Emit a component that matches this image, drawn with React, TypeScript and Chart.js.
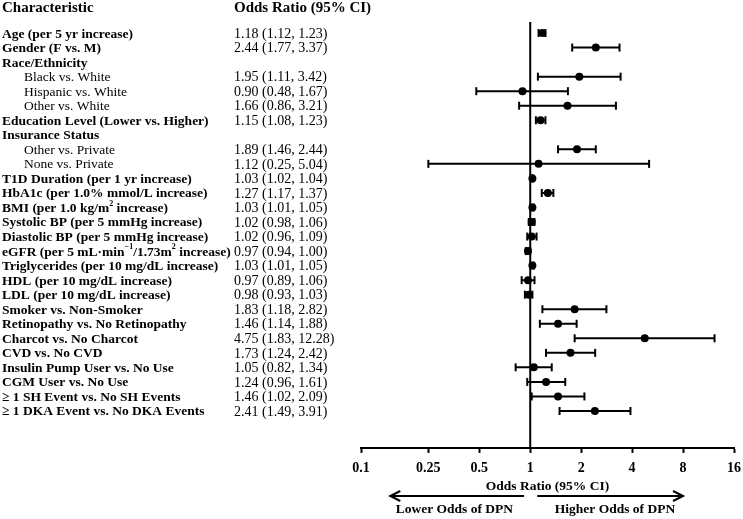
import React, { useEffect, useRef } from "react";
import { Chart, registerables } from "chart.js";

Chart.register(...registerables);

const labels: string[] = [
  "Age (per 5 yr increase)",
  "Gender (F vs. M)",
  "Race/Ethnicity",
  "Black vs. White",
  "Hispanic vs. White",
  "Other vs. White",
  "Education Level (Lower vs. Higher)",
  "Insurance Status",
  "Other vs. Private",
  "None vs. Private",
  "T1D Duration (per 1 yr increase)",
  "HbA1c (per 1.0% mmol/L increase)",
  "BMI (per 1.0 kg/m² increase)",
  "Systolic BP (per 5 mmHg increase)",
  "Diastolic BP (per 5 mmHg increase)",
  "eGFR (per 5 mL·min⁻¹/1.73m² increase)",
  "Triglycerides (per 10 mg/dL increase)",
  "HDL (per 10 mg/dL increase)",
  "LDL (per 10 mg/dL increase)",
  "Smoker vs. Non-Smoker",
  "Retinopathy vs. No Retinopathy",
  "Charcot vs. No Charcot",
  "CVD vs. No CVD",
  "Insulin Pump User vs. No Use",
  "CGM User vs. No Use",
  "≥ 1 SH Event vs. No SH Events",
  "≥ 1 DKA Event vs. No DKA Events",
];

const subItem: boolean[] = [
  false, false, false, true, true, true, false, false, true, true,
  false, false, false, false, false, false, false, false, false, false,
  false, false, false, false, false, false, false,
];

const oddsRatio: (number | null)[] = [
  1.18, 2.44, null, 1.95, 0.9, 1.66, 1.15, null, 1.89, 1.12,
  1.03, 1.27, 1.03, 1.02, 1.02, 0.97, 1.03, 0.97, 0.98, 1.83,
  1.46, 4.75, 1.73, 1.05, 1.24, 1.46, 2.41,
];
const lower: (number | null)[] = [
  1.12, 1.77, null, 1.11, 0.48, 0.86, 1.08, null, 1.46, 0.25,
  1.02, 1.17, 1.01, 0.98, 0.96, 0.94, 1.01, 0.89, 0.93, 1.18,
  1.14, 1.83, 1.24, 0.82, 0.96, 1.02, 1.49,
];
const upper: (number | null)[] = [
  1.23, 3.37, null, 3.42, 1.67, 3.21, 1.23, null, 2.44, 5.04,
  1.04, 1.37, 1.05, 1.06, 1.09, 1.0, 1.05, 1.06, 1.03, 2.82,
  1.88, 12.28, 2.42, 1.34, 1.61, 2.09, 3.91,
];

const tickValues: number[] = [0.1, 0.25, 0.5, 1, 2, 4, 8, 16];

const FONT = "'Liberation Serif', 'Times New Roman', serif";

const fmt = (v: number) => v.toFixed(2);

const SUP: Record<string, string> = { "²": "2", "¹": "1", "⁻": "−" };

function drawRich(ctx: CanvasRenderingContext2D, text: string, x: number, y: number, weight: string, size: number) {
  let cx = x;
  let buf = "";
  const flush = () => {
    if (!buf) return;
    ctx.font = `${weight} ${size}px ${FONT}`;
    ctx.fillText(buf, cx, y);
    cx += ctx.measureText(buf).width;
    buf = "";
  };
  for (const ch of text) {
    if (SUP[ch]) {
      flush();
      ctx.font = `${weight} ${Math.round(size * 0.62)}px ${FONT}`;
      const s = SUP[ch];
      ctx.fillText(s, cx, y - size * 0.35);
      cx += ctx.measureText(s).width;
    } else {
      buf += ch;
    }
  }
  flush();
}

export default function App() {
  const ref = useRef<HTMLCanvasElement | null>(null);

  useEffect(() => {
    if (!ref.current) return;

    const ciData: any[] = [];
    const ptData: any[] = [];
    labels.forEach((_, i) => {
      if (oddsRatio[i] != null) {
        ciData.push({ x: lower[i], y: i });
        ciData.push({ x: upper[i], y: i });
        ciData.push({ x: null, y: null });
        ptData.push({ x: oddsRatio[i], y: i });
      }
    });

    const textPlugin = {
      id: "forestText",
      afterDraw(chart: any) {
        const ctx = chart.ctx;
        const ys = chart.scales.y;
        const xs = chart.scales.x;
        ctx.save();
        ctx.fillStyle = "#000";
        ctx.textBaseline = "middle";
        ctx.textAlign = "left";
        ctx.font = `bold 15px ${FONT}`;
        ctx.fillText("Characteristic", 2, 8);
        ctx.fillText("Odds Ratio (95% CI)", 234, 8);
        labels.forEach((lab, i) => {
          const y = ys.getPixelForValue(i) + 1;
          drawRich(ctx, lab, subItem[i] ? 24 : 2, y, subItem[i] ? "normal" : "bold", 13.5);
          if (oddsRatio[i] != null) {
            ctx.font = `14px ${FONT}`;
            ctx.fillText(
              `${fmt(oddsRatio[i] as number)} (${fmt(lower[i] as number)}, ${fmt(upper[i] as number)})`,
              234,
              y
            );
          }
        });
        // reference line at OR = 1
        const x1 = xs.getPixelForValue(1);
        ctx.strokeStyle = "#000";
        ctx.lineWidth = 2;
        ctx.beginPath();
        ctx.moveTo(x1, chart.chartArea.top);
        ctx.lineTo(x1, chart.chartArea.bottom);
        ctx.stroke();

        // arrows
        const ay = 496;
        const drawArrow = (from: number, to: number) => {
          const a = xs.getPixelForValue(from);
          const b = xs.getPixelForValue(to);
          ctx.beginPath();
          ctx.moveTo(a, ay);
          ctx.lineTo(b, ay);
          ctx.stroke();
          const dir = b > a ? -1 : 1;
          ctx.beginPath();
          ctx.moveTo(b + dir * 10, ay - 5);
          ctx.lineTo(b, ay);
          ctx.lineTo(b + dir * 10, ay + 5);
          ctx.stroke();
        };
        ctx.lineWidth = 2;
        drawArrow(0.92, 0.149);
        drawArrow(1.1, 8);
        ctx.font = `bold 13.5px ${FONT}`;
        ctx.textAlign = "center";
        ctx.fillText("Lower Odds of DPN", xs.getPixelForValue(0.356), 510);
        ctx.fillText("Higher Odds of DPN", xs.getPixelForValue(3.17), 510);
        ctx.restore();
      },
    };

    const chart = new Chart(ref.current, {
      type: "scatter",
      data: {
        datasets: [
          {
            data: ciData,
            showLine: true,
            spanGaps: false,
            borderColor: "#000",
            borderWidth: 2,
            pointStyle: "line",
            rotation: 90,
            pointRadius: 4,
            pointBorderWidth: 2,
            pointBorderColor: "#000",
            backgroundColor: "#000",
          } as any,
          {
            data: ptData,
            pointStyle: "circle",
            pointRadius: 4,
            backgroundColor: "#000",
            borderColor: "#000",
            borderWidth: 0,
          } as any,
        ],
      },
      options: {
        animation: false,
        responsive: true,
        maintainAspectRatio: false,
        layout: { padding: { left: 361, right: 9, top: 22, bottom: 28 } },
        plugins: {
          legend: { display: false },
          tooltip: { enabled: false },
        },
        scales: {
          x: {
            type: "logarithmic",
            min: 0.1,
            max: 16,
            afterBuildTicks: (axis: any) => {
              axis.ticks = tickValues.map((v) => ({ value: v }));
            },
            afterFit: (axis: any) => {
              axis.paddingRight = 0;
              axis.paddingLeft = 0;
            },
            ticks: {
              color: "#000",
              font: { family: FONT, size: 14, weight: "bold", lineHeight: 1 },
              padding: 8,
              autoSkip: false,
              maxRotation: 0,
              callback: (v: any) => String(v),
            },
            grid: {
              drawOnChartArea: false,
              drawTicks: true,
              tickLength: 5,
              tickWidth: 2,
              tickColor: "#000",
            },
            border: { display: true, color: "#000", width: 2 },
            title: {
              display: true,
              text: "Odds Ratio (95% CI)",
              color: "#000",
              font: { family: FONT, size: 13.5, weight: "bold", lineHeight: 0.6 },
              padding: { top: 0, bottom: 0 },
            },
          },
          y: {
            type: "linear",
            display: false,
            reverse: true,
            min: -0.76,
            max: 28.54,
          },
        },
      } as any,
      plugins: [textPlugin],
    });
    return () => chart.destroy();
  }, []);

  return (
    <div style={{ position: "fixed", left: 0, top: 0, width: 743, height: 519, background: "#fff" }}>
      <canvas ref={ref} />
    </div>
  );
}
